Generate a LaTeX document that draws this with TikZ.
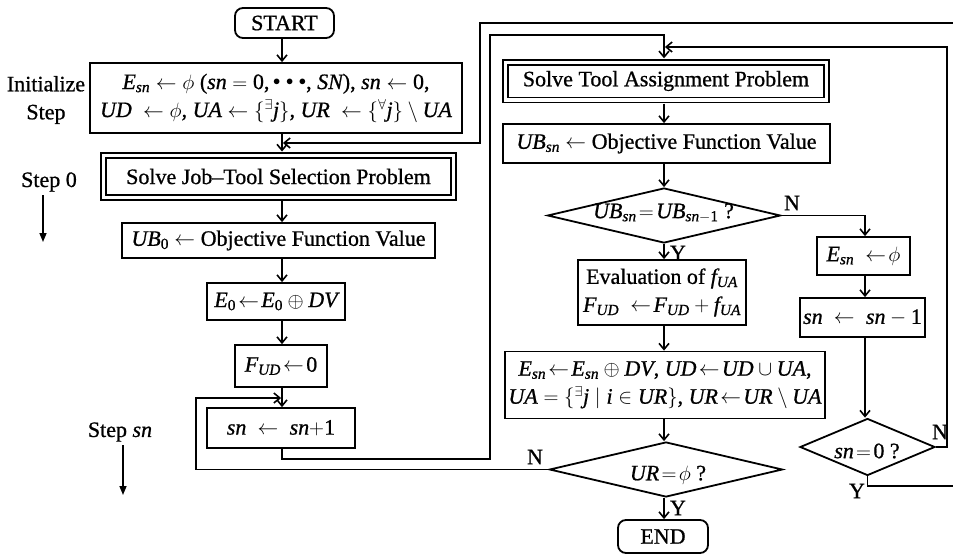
\documentclass[tikz,border=0pt]{standalone}
\usepackage{amsmath}
\usepackage{graphicx}
\usepackage{fontspec}
\setmainfont{Liberation Serif}[UprightFeatures={FakeBold=0.8},ItalicFeatures={FakeBold=0.8}]
\usetikzlibrary{shapes.geometric,arrows.meta,calc}
\newcommand{\V}[1]{\mathit{#1}}
\newcommand{\D}[1]{\mathrm{#1}}
\newcommand{\tdots}{\,\raisebox{0.4ex}{\scalebox{0.7}{$\bullet\,\bullet\,\bullet$}}}

\begin{document}
\begin{tikzpicture}[x=1pt,y=-1pt,
  font=\fontsize{22}{28}\selectfont,
  box/.style={draw, line width=1.8pt, inner sep=0pt, align=center},
  dbox/.style={draw, line width=1.5pt, double, double distance=3.5pt, inner sep=0pt, align=center},
  term/.style={draw, line width=1.8pt, rounded corners=8pt, inner sep=0pt},
  dec/.style={draw, diamond, line width=1.8pt, inner sep=0pt},
  flow/.style={line width=1.8pt, -{Straight Barb[length=6pt,width=10pt,line width=1.6pt]}},
  side/.style={line width=1.5pt, -{Triangle[length=9pt,width=7pt]}},
  yn/.style={inner sep=0pt}]

\useasboundingbox[fill=white] (0,0) rectangle (953,554);

% column guides
\coordinate (colL) at (282,0);
\coordinate (colR) at (664,0);
\coordinate (colS) at (865,0);

% ---- left column: step 0 ----
\node[term, minimum width=99pt, minimum height=30pt] (start) at (284.5,23) {START};
\node[box, minimum width=372pt, minimum height=70pt] (init) at (276,98)
  {$\V{E}_{\V{sn}}\leftarrow\phi$ ($\V{sn}$ $=\D{0}$,\tdots, $\V{SN}$), $\V{sn}\leftarrow\D{0}$,\\
   $\V{UD}\ \leftarrow\phi$, $\V{UA}\leftarrow\{{}^{\exists}\V{j}\}$, $\V{UR}\ \leftarrow\{{}^{\forall}\V{j}\}\setminus\V{UA}$};
\node[dbox, minimum width=350pt, minimum height=42pt] (job) at (278.5,176.5)
  {Solve Job--Tool Selection Problem};
\node[box, minimum width=313pt, minimum height=35pt] (ub0) at (278.5,240.5)
  {$\V{UB}_{\D{0}}$ $\leftarrow$\ Objective Function Value};
\node[box, minimum width=138pt, minimum height=37pt] (e0) at (276,301.5)
  {$\V{E}_{\D{0}}\!\leftarrow\!\V{E}_{\D{0}}\oplus\V{DV}$};
\node[box, minimum width=92pt, minimum height=42pt] (fud) at (281,366)
  {$\V{F}_{\V{UD}}\!\leftarrow\!\D{0}$};
\node[box, minimum width=148pt, minimum height=40pt] (snp) at (281,428)
  {$\V{sn}\ \leftarrow\ \V{sn}{+}\D{1}$};

% ---- right column: step sn ----
\node[dbox, minimum width=321pt, minimum height=37.5pt] (tool) at (666,81)
  {Solve Tool Assignment Problem};
\node[box, minimum width=327pt, minimum height=39pt] (ubsn) at (666.5,143.5)
  {$\V{UB}_{\V{sn}}$ $\leftarrow$\ Objective Function Value};
\node[dec, minimum width=233pt, minimum height=55pt] (d1) at (664,215.5) {};
\node at (663.5,213) {$\V{UB}_{\V{sn}}\!=\!\V{UB}_{\V{sn}-\D{1}}$ ?};
\node[box, minimum width=168pt, minimum height=65pt] (eval) at (662,292.5)
  {Evaluation of $\V{f}_{\V{UA}}$\\ $\V{F}_{\V{UD}}\ \leftarrow\!\V{F}_{\V{UD}}+\V{f}_{\V{UA}}$};
\node[box, minimum width=320pt, minimum height=67pt] (big) at (665,385)
  {$\V{E}_{\V{sn}}\!\leftarrow\!\V{E}_{\V{sn}}\oplus\V{DV}$, $\V{UD}\!\leftarrow\!\V{UD}\cup\V{UA}$,\\
   $\V{UA}=\{{}^{\exists}\V{j}\mid \V{i}\in\V{UR}\}$, $\V{UR}\!\leftarrow\!\V{UR}\setminus\V{UA}$};
\node[dec, minimum width=233pt, minimum height=55pt] (d2) at (666,469.5) {};
\node at (668,475) {$\V{UR}\!=\!\phi$ ?};
\node[term, minimum width=90pt, minimum height=33pt] (end) at (663,536.5) {END};

% ---- backtrack column ----
\node[box, minimum width=93pt, minimum height=38pt] (esn) at (863.5,256)
  {$\V{E}_{\V{sn}}\ \leftarrow\!\phi$};
\node[box, minimum width=125pt, minimum height=39pt] (snm) at (862.5,317.5)
  {$\V{sn}\ \leftarrow\ \V{sn}-\D{1}$};
\node[dec, minimum width=135pt, minimum height=57pt] (d3) at (867.5,447) {};
\node at (867,451) {$\V{sn}\!=\!\D{0}$ ?};

% ---- side labels ----
\node[align=center] (lblinit) at (46,100) {Initialize\\Step};
\node (lbl0) at (49,182) {Step 0};
\node (lblsn) at (120,432) {Step $\V{sn}$};
\coordinate (s0end) at (43,242);
\coordinate (snend) at (123,495);
\draw[side] (lbl0.south -| s0end) -- (s0end);
\draw[side] (lblsn.south -| snend) -- (snend);

% ---- merge points and bends ----
\coordinate (mJob) at (282,143);
\coordinate (mSn) at (282,398);
\coordinate (mTool) at (664,47);
\coordinate (j1) at (490,459);
\coordinate (j2) at (490,35);

% ---- main flow ----
\draw[flow] (start.south -| colL) -- (init.north -| colL);
\draw[flow, shorten >=3.2pt] (init.south -| colL) -- (job.north -| colL);
\draw[flow, shorten <=3.2pt] (job.south -| colL) -- (ub0.north -| colL);
\draw[flow] (ub0.south -| colL) -- (e0.north -| colL);
\draw[flow] (e0.south -| colL) -- (fud.north -| colL);
\draw[flow] (fud.south -| colL) -- (snp.north -| colL);
\draw[flow, shorten >=3.2pt] (snp.south -| colL) |- (j1) -- (j2) -| (tool.north -| colR);
\draw[flow, shorten <=3.2pt] (tool.south -| colR) -- (ubsn.north -| colR);
\draw[flow] (ubsn.south -| colR) -- (d1.north);
\draw[flow] (d1.south) -- (eval.north -| d1.south);
\draw[flow] (eval.south -| colR) -- (big.north -| colR);
\draw[flow] (big.south -| colR) -- (d2.north -| colR);
\draw[flow] (d2.south -| colR) -- (end.north -| colR);

% ---- N branch of the first test ----
\draw[flow] (d1.east) -| (esn.north -| colS);
\draw[flow] (esn.south -| colS) -- (snm.north -| colS);
\draw[flow] (snm.south -| colS) -- (d3.north -| colS);

% ---- loops back ----
\draw[flow, shorten >=0.9pt] (d3.east) -| (947,47) -- (mTool);
\draw[flow, shorten >=0.9pt] (d3.south) |- (962,486) |- (480,23) |- (mJob);
\draw[flow, shorten >=0.9pt] (d2.west) -| (196,398) -- (mSn);

% ---- branch labels ----
\node[yn] at (792,203) {N};
\node[yn] at (678,253) {Y};
\node[yn] at (535,457) {N};
\node[yn] at (678,508) {Y};
\node[yn] at (940,432) {N};
\node[yn] at (857,491) {Y};

\end{tikzpicture}
\end{document}
